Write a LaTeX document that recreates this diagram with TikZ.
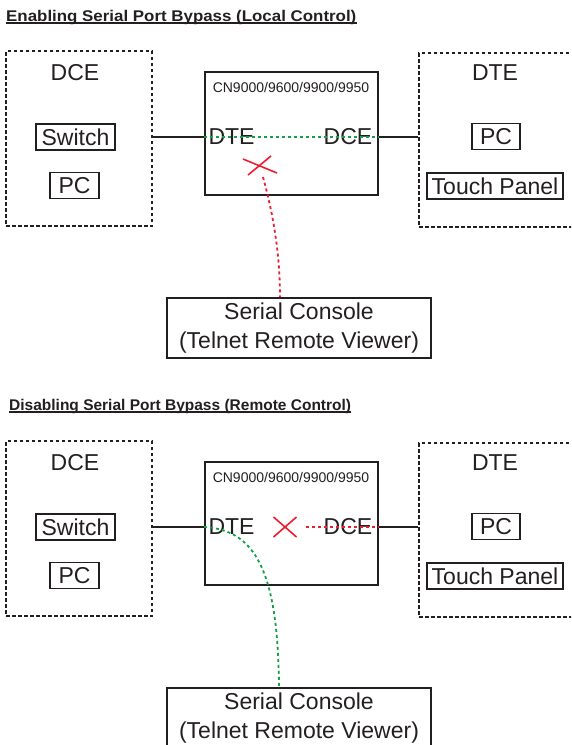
\documentclass[tikz,border=0pt]{standalone}
\usepackage{fontspec}
\setmainfont{Liberation Sans}
\definecolor{ink}{RGB}{35,31,32}
\definecolor{linkgreen}{RGB}{20,160,70}
\definecolor{cutred}{RGB}{237,28,46}

\begin{document}
\begin{tikzpicture}[x=1pt,y=-1pt,
  big/.style={font=\fontsize{23}{29}\selectfont, text=ink},
  heading/.style={font=\fontsize{15.5}{18}\selectfont\bfseries, text=ink, anchor=base west, inner sep=0},
  dashbox/.style={draw=ink, line width=1.6pt, dash pattern=on 3.5pt off 2.5pt, inner sep=0},
  itembox/.style={big, draw=ink, line width=1.4pt, minimum height=26pt, inner sep=0, text height=16.5pt, text depth=0pt},
  unit/.style={draw=ink, line width=1.8pt, minimum width=173pt, minimum height=123pt, inner sep=0},
  console/.style={big, draw=ink, line width=1.8pt, minimum width=264pt, minimum height=60pt, align=center, inner sep=0},
  wire/.style={ink, line width=1.8pt},
  greenlink/.style={linkgreen, line width=1.8pt, dash pattern=on 3pt off 3pt},
  redlink/.style={cutred, line width=1.8pt, dash pattern=on 3pt off 3pt},
  cut/.style={cutred, line width=1.6pt}]
\useasboundingbox (0,0) rectangle (571,745);
\clip (0,0) rectangle (571,745);

% enabling (local control)
\node[heading] (titleA) at (6,21) {\scalebox{1.09}[1]{Enabling Serial Port Bypass (Local Control)}};
\draw[wire, line width=1.3pt] ([yshift=-2pt]titleA.base west) -- ([yshift=-2pt]titleA.base east);

\node[dashbox, minimum width=146pt, minimum height=175pt] (dceA) at (79,138.5) {};
\node[big] (dceNameA) at (75,73) {DCE};
\node[itembox, minimum width=79pt] (swA) at (75.5,137) {Switch};
\node[itembox, minimum width=49pt] (pcA) at (74.5,185.5) {PC};

\node[dashbox, minimum width=156pt, minimum height=174pt] (dteA) at (497,140) {};
\node[big] (dteNameA) at (495,73) {DTE};
\node[itembox, minimum width=48pt] (pcRA) at (496,136.5) {PC};
\node[itembox, minimum width=136pt] (touchA) at (495,186) {Touch Panel};

\node[unit] (cnA) at (291.5,133.5) {};
\node[font=\fontsize{14}{16}\selectfont, text=ink] (modelA) at (291,87) {CN9000/9600/9900/9950};
\node[big] (dtePortA) at (231.5,137) {DTE};
\node[big] (dcePortA) at (348,137) {DCE};

\node[console] (conA) at (299,328) {Serial Console\\(Telnet Remote Viewer)};

\draw[wire] (dceA.east |- dtePortA) -- (cnA.west |- dtePortA);
\draw[greenlink] (cnA.west |- dtePortA) -- (cnA.east |- dcePortA);
\draw[wire] (cnA.east |- dcePortA) -- (dteA.west |- dcePortA);

\coordinate (cutA) at (260,166);
\draw[cut] (cutA) ++(-17,-7) -- ++(34,14);
\draw[cut] (cutA) ++(-12,9) -- ++(23,-19);
\draw[redlink] ([xshift=3pt,yshift=-11pt]cutA) .. controls (272,210) and (280,250) .. ([xshift=-19pt]conA.north);

% disabling (remote control)
\begin{scope}[shift={(0,390)}]
\node[heading] (titleB) at (9,20) {Disabling Serial Port Bypass (Remote Control)};
\draw[wire, line width=1.3pt] ([yshift=-2pt]titleB.base west) -- ([yshift=-2pt]titleB.base east);

\node[dashbox, minimum width=146pt, minimum height=175pt] (dceB) at (79,138.5) {};
\node[big] (dceNameB) at (75,73) {DCE};
\node[itembox, minimum width=79pt] (swB) at (75.5,137) {Switch};
\node[itembox, minimum width=49pt] (pcB) at (74.5,185.5) {PC};

\node[dashbox, minimum width=156pt, minimum height=174pt] (dteB) at (497,140) {};
\node[big] (dteNameB) at (495,73) {DTE};
\node[itembox, minimum width=48pt] (pcRB) at (496,136.5) {PC};
\node[itembox, minimum width=136pt] (touchB) at (495,186) {Touch Panel};

\node[unit] (cnB) at (291.5,133.5) {};
\node[font=\fontsize{14}{16}\selectfont, text=ink] (modelB) at (291,87) {CN9000/9600/9900/9950};
\node[big] (dtePortB) at (231.5,137) {DTE};
\node[big] (dcePortB) at (348,137) {DCE};

\node[console] (conB) at (299,328) {Serial Console\\(Telnet Remote Viewer)};

\draw[wire] (dceB.east |- dtePortB) -- (cnB.west |- dtePortB);
\draw[wire] (cnB.east |- dcePortB) -- (dteB.west |- dcePortB);

\coordinate (cutB) at (285,137);
\draw[cut] (cutB) ++(-11.5,-10) -- ++(23,20);
\draw[cut] (cutB) ++(-11.5,10) -- ++(23,-20);
\draw[redlink] ([xshift=21pt]cutB) -- (cnB.east |- dcePortB);
\draw[greenlink] (cnB.west |- dtePortB) .. controls (255,140) and (278,180) .. ([xshift=-20pt]conB.north);
\end{scope}
\end{tikzpicture}
\end{document}
